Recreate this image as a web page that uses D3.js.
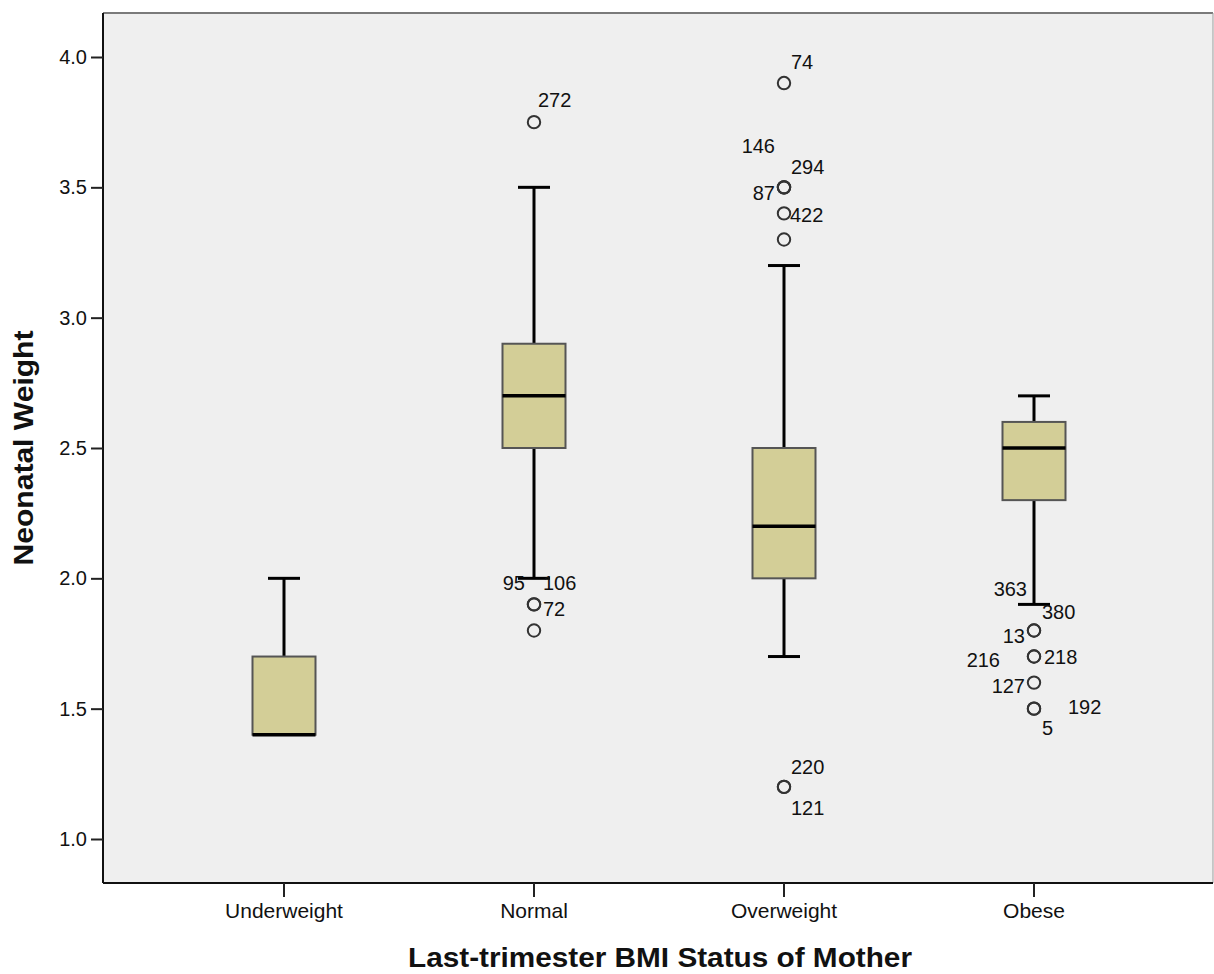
<!DOCTYPE html>
<html>
<head>
<meta charset="utf-8">
<script src="https://cdn.jsdelivr.net/npm/d3@7"></script>
<style>
  body { margin: 0; background: #fff; }
  text { font-family: "Liberation Sans", Arial, sans-serif; fill: #111; }
</style>
</head>
<body>
<div id="chart"></div>
<script>
// Data
const categories = ["Underweight", "Normal", "Overweight", "Obese"];
const q1 = [1.4, 2.5, 2.0, 2.3];
const medians = [1.4, 2.7, 2.2, 2.5];
const q3 = [1.7, 2.9, 2.5, 2.6];
const whiskerLow = [1.4, 2.0, 1.7, 1.9];
const whiskerHigh = [2.0, 3.5, 3.2, 2.7];
// outliers: [category, value] (repeated values = overlapping cases)
const outliers = [
    ["Normal", 3.75], ["Normal", 1.9], ["Normal", 1.9], ["Normal", 1.8],
    ["Overweight", 3.9], ["Overweight", 3.5], ["Overweight", 3.5], ["Overweight", 3.5],
    ["Overweight", 3.4], ["Overweight", 3.3], ["Overweight", 1.2], ["Overweight", 1.2],
    ["Obese", 1.8], ["Obese", 1.8], ["Obese", 1.7], ["Obese", 1.7],
    ["Obese", 1.6], ["Obese", 1.5], ["Obese", 1.5]
];
// case labels: [category, value, case id]
const caseLabels = [
    ["Normal", 3.75, "272"], ["Normal", 1.9, "95"], ["Normal", 1.9, "106"], ["Normal", 1.9, "72"],
    ["Overweight", 3.9, "74"], ["Overweight", 3.5, "146"], ["Overweight", 3.5, "294"],
    ["Overweight", 3.5, "87"], ["Overweight", 3.4, "422"], ["Overweight", 1.2, "220"],
    ["Overweight", 1.2, "121"],
    ["Obese", 1.8, "363"], ["Obese", 1.8, "380"], ["Obese", 1.8, "13"], ["Obese", 1.7, "216"],
    ["Obese", 1.7, "218"], ["Obese", 1.6, "127"], ["Obese", 1.5, "192"], ["Obese", 1.5, "5"]
];
const yTicks = [1.0, 1.5, 2.0, 2.5, 3.0, 3.5, 4.0];

// label placement relative to the circle (layout only)
const labelOffset = {
    "272": [4, -22, "start"], "95": [-9, -22, "end"], "106": [9, -22, "start"], "72": [9, 4, "start"],
    "74": [7, -21, "start"], "146": [-9, -42, "end"], "294": [7, -21, "start"], "87": [-9, 5, "end"],
    "422": [6, 1, "start"], "220": [7, -20, "start"], "121": [7, 21, "start"],
    "363": [-7, -42, "end"], "380": [8, -19, "start"], "13": [-9, 5, "end"], "216": [-34, 3, "end"],
    "218": [10, 0, "start"], "127": [-9, 3, "end"], "192": [34, -2, "start"], "5": [8, 19, "start"]
};

const W = 1214, H = 974;
const plotLeft = 103, plotRight = 1213, plotTop = 13, plotBottom = 883;

const svg = d3.select("#chart").append("svg")
    .attr("width", W)
    .attr("height", H);

const x = d3.scaleBand()
    .domain(categories)
    .range([159, 1159]);

const y = d3.scaleLinear()
    .domain([0.8312, 4.1688])
    .range([plotBottom, plotTop]);

const cx = c => x(c) + x.bandwidth() / 2;
const boxW = 63, capW = 32;

// plot background
svg.append("rect")
    .attr("x", plotLeft).attr("y", plotTop)
    .attr("width", plotRight - plotLeft).attr("height", plotBottom - plotTop)
    .attr("fill", "#efefef");
svg.append("line")
    .attr("x1", plotLeft).attr("x2", plotRight).attr("y1", plotTop).attr("y2", plotTop)
    .attr("stroke", "#7a7a7a").attr("stroke-width", 2);
svg.append("line")
    .attr("x1", plotRight).attr("x2", plotRight).attr("y1", plotTop).attr("y2", plotBottom)
    .attr("stroke", "#9a9a9a").attr("stroke-width", 1);

// axes
const yAxis = svg.append("g")
    .attr("transform", `translate(${plotLeft},0)`)
    .call(d3.axisLeft(y).tickValues(yTicks).tickFormat(d3.format(".1f")).tickSize(12).tickPadding(4));
const xAxis = svg.append("g")
    .attr("transform", `translate(0,${plotBottom})`)
    .call(d3.axisBottom(x).tickSize(14).tickPadding(6));
[yAxis, xAxis].forEach(g => {
    g.select(".domain").attr("stroke", "#111").attr("stroke-width", 2);
    g.selectAll(".tick line").attr("stroke", "#222").attr("stroke-width", 2);
    g.selectAll(".tick text").attr("font-size", 20).attr("fill", "#111")
        .attr("font-family", "'Liberation Sans', Arial, sans-serif");
});
yAxis.select(".domain").attr("d", `M0,${plotTop}V${plotBottom}`);
xAxis.select(".domain").attr("d", `M${plotLeft},0H${plotRight}`);
xAxis.selectAll(".tick text").attr("font-size", 21);

// boxes
categories.forEach((c, i) => {
    const g = svg.append("g");
    const xc = cx(c);
    // whiskers
    g.append("line").attr("x1", xc).attr("x2", xc)
        .attr("y1", y(q3[i])).attr("y2", y(whiskerHigh[i]))
        .attr("stroke", "#000").attr("stroke-width", 3);
    g.append("line").attr("x1", xc).attr("x2", xc)
        .attr("y1", y(q1[i])).attr("y2", y(whiskerLow[i]))
        .attr("stroke", "#000").attr("stroke-width", 3);
    [whiskerHigh[i], whiskerLow[i]].forEach(v => {
        if (v === q1[i]) return;
        g.append("line").attr("x1", xc - capW / 2).attr("x2", xc + capW / 2)
            .attr("y1", y(v)).attr("y2", y(v))
            .attr("stroke", "#000").attr("stroke-width", 3);
    });
    g.append("rect")
        .attr("x", xc - boxW / 2).attr("width", boxW)
        .attr("y", y(q3[i])).attr("height", y(q1[i]) - y(q3[i]))
        .attr("fill", "#d3ce97").attr("stroke", "#555").attr("stroke-width", 2);
    g.append("line").attr("x1", xc - boxW / 2).attr("x2", xc + boxW / 2)
        .attr("y1", y(medians[i])).attr("y2", y(medians[i]))
        .attr("stroke", "#000").attr("stroke-width", 3.5);
});

// outliers
svg.selectAll("circle.out")
    .data(outliers)
    .enter()
    .append("circle")
    .attr("class", "out")
    .attr("cx", d => cx(d[0]))
    .attr("cy", d => y(d[1]))
    .attr("r", 6.2)
    .attr("fill", "none")
    .attr("stroke", "#333")
    .attr("stroke-width", 2);

svg.selectAll("text.case")
    .data(caseLabels)
    .enter()
    .append("text")
    .attr("class", "case")
    .attr("x", d => cx(d[0]) + labelOffset[d[2]][0])
    .attr("y", d => y(d[1]) + labelOffset[d[2]][1])
    .attr("dy", "0.36em")
    .attr("text-anchor", d => labelOffset[d[2]][2])
    .attr("font-size", 20)
    .text(d => d[2]);

// axis titles
svg.append("text")
    .attr("x", 660).attr("y", 967)
    .attr("text-anchor", "middle")
    .attr("font-size", 27).attr("font-weight", "bold")
    .attr("textLength", 504).attr("lengthAdjust", "spacingAndGlyphs")
    .text("Last-trimester BMI Status of Mother");
svg.append("text")
    .attr("transform", "translate(33,448) rotate(-90)")
    .attr("text-anchor", "middle")
    .attr("font-size", 27).attr("font-weight", "bold")
    .attr("textLength", 235).attr("lengthAdjust", "spacingAndGlyphs")
    .text("Neonatal Weight");
</script>
</body>
</html>
